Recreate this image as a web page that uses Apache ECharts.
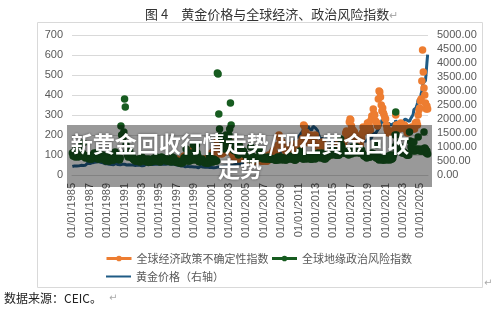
<!DOCTYPE html>
<html>
<head>
<meta charset="utf-8">
<script src="https://cdn.jsdelivr.net/npm/echarts@6.0.0/dist/echarts.min.js"></script>
<style>
  html, body { margin: 0; padding: 0; background: #fff; }
  #chart { width: 500px; height: 313px; }
</style>
</head>
<body>
<div id="chart"></div>
<script>
// monthly data, 01/1985 .. 11/2025
const firstYear = 1985
const lastYear = 2025
const lastMonth = 11
const labelYears = [1985, 1987, 1989, 1991, 1993, 1995, 1997, 1999, 2001, 2003, 2005,
  2007, 2009, 2011, 2013, 2015, 2017, 2019, 2021, 2023, 2025]
const epuStart = '01/01/1997'

// 黄金价格（右轴）
const gold = [
  303, 299, 304, 325, 317, 317, 318, 330, 323, 326, 325, 322, // 1985
  345, 339, 346, 340, 342, 343, 348, 376, 418, 423, 399, 391,
  408, 401, 409, 438, 460, 450, 450, 461, 460, 465, 467, 487,
  477, 442, 444, 452, 451, 451, 438, 431, 413, 406, 420, 419,
  404, 388, 390, 384, 371, 367, 375, 365, 362, 367, 394, 409,
  410, 417, 393, 374, 369, 352, 362, 395, 389, 380, 381, 378, // 1990
  384, 364, 363, 358, 357, 367, 368, 356, 349, 359, 360, 361,
  354, 354, 345, 338, 337, 341, 353, 343, 345, 345, 335, 334,
  329, 329, 330, 342, 367, 372, 392, 379, 355, 364, 373, 383,
  387, 382, 384, 377, 381, 386, 385, 380, 391, 390, 384, 380,
  379, 376, 382, 391, 385, 387, 386, 383, 383, 383, 386, 387, // 1995
  400, 405, 396, 393, 392, 385, 383, 387, 383, 381, 378, 369,
  355, 347, 352, 344, 344, 341, 324, 324, 323, 325, 306, 289,
  289, 297, 296, 308, 299, 292, 293, 284, 289, 296, 294, 291,
  287, 287, 286, 282, 277, 261, 256, 257, 265, 311, 293, 283,
  284, 300, 287, 280, 275, 286, 282, 275, 273, 270, 266, 272, // 2000
  266, 262, 263, 261, 272, 270, 268, 273, 284, 283, 276, 276,
  282, 295, 294, 302, 314, 322, 314, 310, 319, 317, 319, 333,
  357, 359, 341, 328, 355, 356, 351, 360, 379, 379, 390, 407,
  414, 405, 406, 404, 384, 392, 398, 400, 406, 420, 439, 442,
  424, 423, 434, 429, 422, 431, 425, 438, 456, 470, 476, 510, // 2005
  549, 555, 557, 610, 676, 596, 633, 632, 598, 586, 627, 629,
  631, 665, 655, 679, 667, 655, 665, 665, 712, 754, 806, 803,
  889, 922, 968, 909, 888, 889, 939, 839, 829, 806, 760, 816,
  858, 943, 924, 890, 928, 946, 934, 949, 996, 1043, 1127, 1134,
  1118, 1095, 1114, 1149, 1205, 1233, 1193, 1215, 1271, 1343, 1370, 1391, // 2010
  1356, 1372, 1424, 1473, 1512, 1529, 1572, 1756, 1772, 1666, 1739, 1652,
  1656, 1742, 1673, 1650, 1585, 1596, 1594, 1630, 1744, 1747, 1722, 1684,
  1671, 1628, 1593, 1487, 1414, 1343, 1286, 1347, 1349, 1316, 1276, 1222,
  1244, 1300, 1336, 1299, 1287, 1279, 1311, 1296, 1239, 1222, 1176, 1201,
  1251, 1227, 1179, 1198, 1199, 1181, 1128, 1117, 1125, 1159, 1086, 1068, // 2015
  1097, 1200, 1246, 1242, 1261, 1276, 1337, 1341, 1326, 1267, 1236, 1152,
  1192, 1234, 1231, 1266, 1246, 1260, 1236, 1283, 1315, 1280, 1283, 1265,
  1331, 1331, 1325, 1335, 1303, 1282, 1238, 1202, 1198, 1215, 1221, 1250,
  1291, 1320, 1300, 1286, 1284, 1359, 1413, 1500, 1510, 1495, 1470, 1480,
  1560, 1597, 1592, 1683, 1715, 1732, 1847, 1968, 1921, 1900, 1866, 1858, // 2020
  1867, 1808, 1718, 1760, 1850, 1834, 1807, 1785, 1776, 1777, 1822, 1790,
  1817, 1856, 1948, 1937, 1849, 1837, 1733, 1765, 1681, 1665, 1726, 1798,
  1898, 1855, 1912, 2000, 1992, 1943, 1951, 1918, 1915, 1916, 1985, 2030,
  2034, 2024, 2160, 2331, 2351, 2326, 2398, 2470, 2570, 2690, 2651, 2648,
  2709, 2895, 2983, 3193, 3288, 3352, 3340, 3368, 3665, 4000, 4300 // 2025
]

// 全球地缘政治风险指数
const gpr = [
  110, 95, 100, 105, 90, 130, 105, 95, 90, 140, 100, 95, // 1985
  110, 95, 110, 160, 100, 90, 85, 90, 95, 90, 85, 80,
  95, 85, 80, 80, 100, 95, 110, 100, 95, 110, 85, 80,
  85, 80, 90, 95, 85, 80, 100, 85, 80, 75, 70, 85,
  90, 75, 70, 70, 80, 85, 75, 85, 75, 75, 80, 115,
  105, 85, 80, 80, 85, 75, 85, 245, 200, 180, 190, 215, // 1990
  380, 340, 150, 115, 100, 90, 95, 120, 95, 90, 85, 90,
  80, 75, 75, 70, 70, 75, 75, 80, 70, 65, 70, 80,
  90, 75, 80, 70, 70, 80, 70, 65, 70, 80, 65, 65,
  65, 75, 70, 80, 70, 85, 70, 75, 90, 85, 70, 70,
  70, 65, 70, 90, 75, 85, 80, 80, 75, 70, 75, 80, // 1995
  70, 70, 75, 70, 65, 80, 90, 75, 85, 70, 65, 65,
  65, 70, 65, 60, 65, 60, 60, 70, 60, 70, 85, 70,
  90, 130, 90, 70, 80, 70, 70, 110, 80, 75, 90, 150,
  80, 75, 130, 150, 110, 95, 70, 65, 70, 70, 70, 80,
  70, 65, 65, 60, 65, 60, 65, 60, 60, 95, 80, 70, // 2000
  65, 75, 65, 80, 70, 75, 70, 70, 510, 505, 305, 230,
  195, 190, 180, 175, 160, 150, 130, 150, 200, 185, 160, 185,
  200, 230, 360, 250, 160, 140, 125, 130, 120, 125, 130, 120,
  110, 100, 150, 140, 130, 120, 115, 110, 120, 105, 105, 100,
  95, 90, 85, 80, 85, 80, 140, 95, 90, 90, 90, 85, // 2005
  80, 85, 80, 85, 85, 90, 120, 110, 95, 95, 85, 80,
  90, 85, 85, 80, 80, 85, 90, 80, 80, 85, 80, 80,
  80, 80, 80, 75, 75, 75, 75, 90, 80, 75, 90, 85,
  90, 80, 75, 80, 85, 80, 75, 75, 80, 80, 80, 90,
  95, 85, 80, 80, 85, 80, 75, 75, 75, 80, 90, 85, // 2010
  85, 100, 120, 100, 110, 85, 80, 80, 85, 85, 85, 80,
  85, 90, 85, 90, 80, 80, 80, 80, 95, 85, 90, 80,
  95, 90, 90, 110, 95, 90, 85, 105, 110, 90, 85, 80,
  85, 80, 110, 100, 90, 100, 100, 110, 115, 105, 100, 110,
  130, 110, 110, 100, 100, 100, 100, 100, 100, 110, 180, 150, // 2015
  130, 110, 130, 110, 110, 110, 120, 105, 110, 100, 110, 120,
  110, 105, 110, 140, 115, 115, 110, 140, 140, 120, 115, 110,
  120, 110, 115, 125, 110, 105, 95, 95, 95, 90, 85, 90,
  90, 95, 90, 90, 100, 110, 100, 95, 105, 100, 90, 85,
  150, 100, 80, 75, 80, 80, 85, 75, 80, 75, 75, 80, // 2020
  80, 80, 75, 85, 95, 80, 75, 100, 80, 80, 85, 100,
  140, 200, 315, 200, 160, 140, 130, 125, 130, 140, 115, 110,
  110, 115, 110, 110, 105, 100, 100, 100, 100, 215, 170, 140,
  130, 125, 120, 165, 130, 120, 130, 125, 125, 190, 130, 120,
  125, 120, 120, 130, 120, 215, 135, 130, 110, 120, 105 // 2025
]

// 全球经济政策不确定性指数 (from 01/1997)
const epu = [
  80, 75, 70, 75, 70, 70, 65, 70, 70, 85, 95, 90, // 1997
  95, 85, 75, 75, 85, 90, 85, 110, 125, 120, 90, 85,
  90, 80, 80, 90, 85, 80, 80, 80, 80, 75, 70, 70,
  70, 75, 75, 80, 80, 75, 70, 75, 80, 85, 100, 100, // 2000
  110, 105, 115, 110, 95, 95, 100, 100, 170, 155, 130, 120,
  120, 115, 105, 110, 110, 120, 130, 125, 135, 125, 125, 130,
  140, 150, 165, 130, 110, 105, 100, 90, 95, 90, 90, 85,
  85, 80, 90, 85, 90, 85, 85, 90, 85, 90, 80, 80,
  80, 75, 75, 80, 80, 75, 80, 75, 85, 90, 75, 75, // 2005
  75, 70, 70, 75, 80, 75, 80, 75, 70, 70, 70, 70,
  70, 75, 80, 70, 70, 70, 80, 100, 95, 85, 95, 90,
  115, 105, 125, 105, 95, 100, 100, 95, 150, 200, 185, 175,
  170, 165, 155, 140, 135, 125, 130, 115, 110, 110, 115, 115,
  120, 125, 115, 115, 150, 155, 140, 130, 140, 135, 150, 150, // 2010
  145, 140, 160, 150, 155, 180, 185, 250, 245, 215, 215, 200,
  190, 170, 160, 165, 190, 200, 190, 180, 175, 185, 195, 200,
  160, 150, 155, 140, 135, 145, 140, 130, 150, 165, 130, 115,
  115, 110, 115, 110, 105, 95, 100, 105, 100, 110, 110, 120,
  130, 120, 115, 110, 110, 140, 145, 160, 150, 140, 130, 135, // 2015
  160, 165, 150, 140, 135, 210, 220, 185, 180, 190, 265, 280,
  275, 245, 220, 225, 200, 215, 180, 200, 190, 180, 175, 165,
  165, 150, 175, 185, 210, 240, 230, 225, 220, 220, 240, 260,
  260, 245, 240, 225, 275, 295, 280, 330, 305, 300, 270, 265,
  260, 245, 380, 420, 415, 390, 350, 320, 335, 310, 300, 285, // 2020
  280, 250, 230, 220, 210, 215, 220, 210, 210, 215, 215, 215,
  215, 230, 300, 250, 235, 250, 250, 230, 245, 260, 245, 240,
  240, 235, 250, 230, 240, 225, 210, 220, 220, 230, 235, 235,
  240, 235, 230, 235, 230, 260, 250, 265, 250, 300, 325, 335,
  370, 380, 470, 625, 515, 435, 400, 360, 330, 345, 330 // 2025
]

const categories = []
for (let y = firstYear; y <= lastYear; y++) {
  for (let m = 1; m <= 12; m++) {
    if (y === lastYear && m > lastMonth) break
    categories.push('01/' + String(m).padStart(2, '0') + '/' + y)
  }
}
const labelSet = new Set(labelYears.map(y => '01/01/' + y))
const epuOffset = categories.indexOf(epuStart)
const epuData = categories.map((c, i) => (i < epuOffset ? null : epu[i - epuOffset]))

const chart = echarts.init(document.getElementById('chart'))
const fontFamily = 'Liberation Sans, Noto Sans CJK SC, sans-serif'
const grey = '#595959'

chart.setOption({
  animation: false,
  textStyle: { fontFamily: fontFamily },
  title: {
    text: '图 4　黄金价格与全球经济、政治风险指数{r|↵}',
    left: 140,
    top: 3,
    textStyle: {
      fontSize: 13,
      fontWeight: 'normal',
      color: '#333',
      fontFamily: 'Noto Sans CJK SC, sans-serif',
      rich: { r: { color: '#aaa', fontSize: 11 } }
    }
  },
  legend: [
    {
      left: 100,
      top: 248,
      itemWidth: 25,
      itemHeight: 7,
      itemGap: 2,
      lineStyle: { opacity: 1, width: 3 },
      textStyle: { fontSize: 11, color: grey, fontFamily: 'Noto Sans CJK SC, sans-serif' },
      data: ['全球经济政策不确定性指数', '全球地缘政治风险指数']
    },
    {
      left: 100,
      top: 266,
      itemWidth: 25,
      itemHeight: 7,
      itemStyle: { opacity: 0 },
      textStyle: { fontSize: 11, color: grey, fontFamily: 'Noto Sans CJK SC, sans-serif' },
      data: ['黄金价格（右轴）']
    }
  ],
  grid: {
    left: 72,
    right: 72,
    top: 35,
    bottom: 138
  },
  xAxis: {
    type: 'category',
    data: categories,
    axisLine: { lineStyle: { color: '#d9d9d9' } },
    axisTick: {
      alignWithLabel: true,
      interval: (i, v) => labelSet.has(v),
      lineStyle: { color: '#d9d9d9' },
      length: 4
    },
    axisLabel: {
      interval: (i, v) => labelSet.has(v),
      rotate: 90,
      fontSize: 11,
      color: grey,
      margin: 8
    }
  },
  yAxis: [
    {
      type: 'value',
      min: 0,
      max: 700,
      interval: 100,
      axisLabel: { fontSize: 11, color: grey, margin: 9 },
      splitLine: { lineStyle: { color: '#d9d9d9' } }
    },
    {
      type: 'value',
      min: 0,
      max: 5000,
      interval: 500,
      axisLabel: { fontSize: 11, color: grey, margin: 9, formatter: v => v.toFixed(2) },
      splitLine: { show: false }
    }
  ],
  series: [
    {
      name: '全球经济政策不确定性指数',
      type: 'line',
      yAxisIndex: 0,
      data: epuData,
      symbol: 'circle',
      symbolSize: 7.5,
      showAllSymbol: true,
      lineStyle: { opacity: 0 },
      itemStyle: { color: '#ED7D31' }
    },
    {
      name: '全球地缘政治风险指数',
      type: 'line',
      yAxisIndex: 0,
      data: gpr,
      symbol: 'circle',
      symbolSize: 7.5,
      showAllSymbol: true,
      lineStyle: { opacity: 0 },
      itemStyle: { color: '#175c20' }
    },
    {
      name: '黄金价格（右轴）',
      type: 'line',
      yAxisIndex: 1,
      data: gold,
      showSymbol: false,
      symbol: 'none',
      lineStyle: { width: 3, color: '#1f5b85' },
      itemStyle: { color: '#1f5b85' }
    }
  ],
  graphic: [
    {
      type: 'rect',
      z: 0,
      silent: true,
      shape: { x: 37.5, y: 22.5, width: 445, height: 265 },
      style: { fill: 'none', stroke: '#d9d9d9', lineWidth: 1 }
    },
    {
      type: 'rect',
      z: 100,
      silent: true,
      shape: { x: 67, y: 125, width: 365, height: 62 },
      style: { fill: 'rgba(0,0,0,0.4)' }
    },
    {
      type: 'text',
      z: 101,
      silent: true,
      x: 240,
      y: 131,
      style: {
        text: '新黄金回收行情走势/现在黄金回收\n走势',
        align: 'center',
        fill: '#fff',
        font: 'bold 22px "Noto Sans CJK SC", sans-serif',
        lineHeight: 25,
        textShadowColor: 'rgba(0,0,0,0.45)',
        textShadowBlur: 3
      }
    },
    {
      type: 'text',
      x: 4,
      y: 292,
      style: {
        text: '数据来源：CEIC。',
        fill: '#222',
        font: '12px "Noto Sans CJK SC", sans-serif'
      }
    },
    {
      type: 'text',
      x: 109,
      y: 293,
      style: { text: '↵', fill: '#aaa', font: '10px "DejaVu Sans", sans-serif' }
    },
    {
      type: 'text',
      x: 484,
      y: 278,
      style: { text: '↵', fill: '#aaa', font: '10px "DejaVu Sans", sans-serif' }
    }
  ]
})
</script>
</body>
</html>
